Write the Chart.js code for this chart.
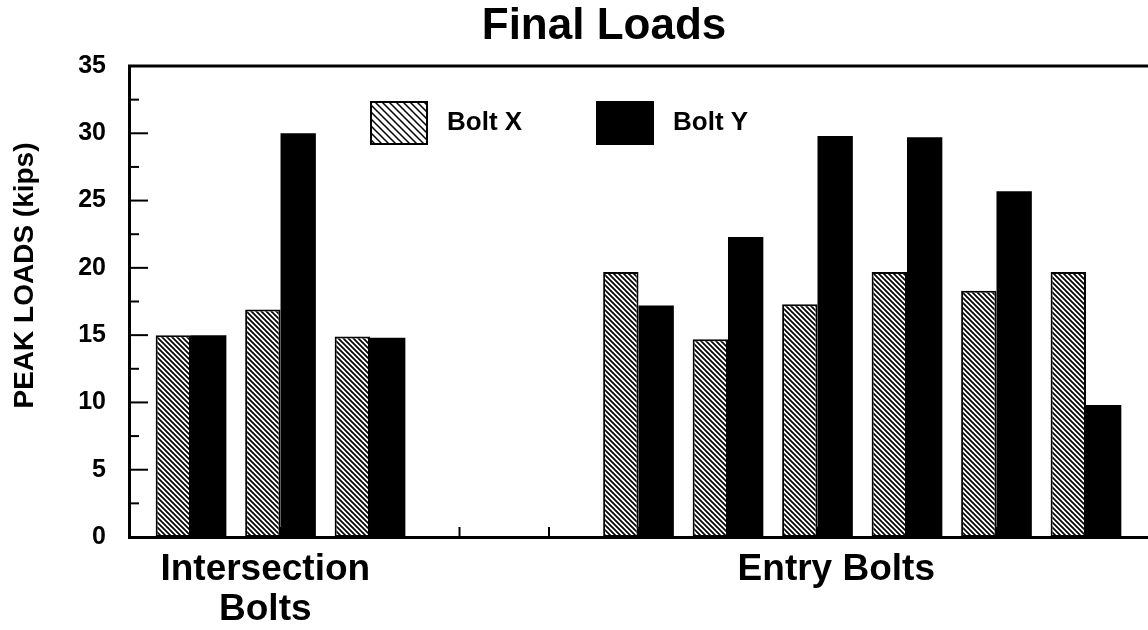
<!DOCTYPE html>
<html>
<head>
<meta charset="utf-8">
<title>Final Loads</title>
<script src="https://cdn.jsdelivr.net/npm/chart.js@4.4.1/dist/chart.umd.min.js"></script>
<style>
  html, body { margin: 0; padding: 0; background: #fff; }
  #wrap { width: 1148px; height: 630px; position: relative; }
</style>
</head>
<body>
<div id="wrap"><canvas id="loads-chart"></canvas></div>
<script>
// slot index along the axis (slots 3 and 4 are the empty gap)
const slots = [0, 1, 2, 5, 6, 7, 8, 9, 10];
const boltX = [15, 16.9, 14.9, 19.7, 14.7, 17.3, 19.7, 18.3, 19.7];
const boltY = [15, 30, 14.8, 17.2, 22.3, 29.8, 29.7, 25.7, 9.8];
const groupLabels = [['Intersection', 'Bolts'], 'Entry Bolts'];
const groupAt = [0.83, 7.21];
const yTicks = [0, 5, 10, 15, 20, 25, 30, 35];

const FONT = "'Liberation Sans', Arial, sans-serif";

function makeHatch(size, width) {
    const c = document.createElement('canvas');
    c.width = size;
    c.height = size;
    const g = c.getContext('2d');
    g.fillStyle = '#fff';
    g.fillRect(0, 0, size, size);
    g.strokeStyle = '#000';
    g.lineWidth = width;
    g.beginPath();
    g.moveTo(-1, -1); g.lineTo(size + 1, size + 1);
    g.moveTo(-1, size - 1); g.lineTo(1, size + 1);
    g.moveTo(size - 1, -1); g.lineTo(size + 1, 1);
    g.stroke();
    return g.createPattern(c, 'repeat');
}

const barHatch = makeHatch(5, 1.7);
const legendHatch = makeHatch(7, 1.5);

// inward tick marks, top frame line, y title and the boxed legend
const decor = {
    id: 'decor',
    beforeDatasetsDraw(chart) {
        const { ctx, chartArea } = chart;
        const x = chart.scales.x;
        const y = chart.scales.y;
        ctx.save();
        ctx.strokeStyle = '#000';
        ctx.lineWidth = 2;
        y.ticks.forEach((t, i) => {
            const py = y.getPixelForTick(i);
            const len = yTicks.includes(t.value) ? 19 : 10;
            ctx.beginPath();
            ctx.moveTo(chartArea.left, py);
            ctx.lineTo(chartArea.left + len, py);
            ctx.stroke();
        });
        x.ticks.forEach((t, i) => {
            const px = x.getPixelForTick(i);
            ctx.beginPath();
            ctx.moveTo(px, chartArea.bottom);
            ctx.lineTo(px, chartArea.bottom - 10);
            ctx.stroke();
        });
        ctx.lineWidth = 3;
        ctx.beginPath();
        ctx.moveTo(chartArea.left - 1, chartArea.top);
        ctx.lineTo(chartArea.right, chartArea.top);
        ctx.stroke();

        // y axis title
        ctx.translate(25, (chartArea.top + chartArea.bottom) / 2 - 26);
        ctx.rotate(-Math.PI / 2);
        ctx.fillStyle = '#000';
        ctx.font = 'bold 28px ' + FONT;
        ctx.textAlign = 'center';
        ctx.textBaseline = 'middle';
        ctx.fillText('PEAK LOADS (kips)', 0, 0);
        ctx.restore();
    },
    afterDatasetsDraw(chart) {
        const { ctx, chartArea } = chart;
        let bx = chartArea.left + 242;
        const by = chartArea.top + 36;
        ctx.save();
        ctx.font = 'bold 26px ' + FONT;
        ctx.textBaseline = 'middle';
        ctx.textAlign = 'left';
        chart.data.datasets.forEach((ds, i) => {
            ctx.fillStyle = i === 0 ? legendHatch : ds.backgroundColor;
            ctx.fillRect(bx, by, 56, 42);
            ctx.strokeStyle = '#000';
            ctx.lineWidth = 2;
            ctx.strokeRect(bx, by, 56, 42);
            ctx.fillStyle = '#000';
            ctx.fillText(ds.label, bx + 76, by + 21);
            bx += 226;
        });
        ctx.restore();
    }
};

// shift the title centre to where the original has it
const placeTitle = {
    id: 'placeTitle',
    afterLayout(chart) {
        chart.titleBlock.left = 60;
    }
};

new Chart(document.getElementById('loads-chart'), {
    type: 'bar',
    data: {
        datasets: [{
            label: 'Bolt X',
            data: slots.map((s, i) => ({ x: s, y: boltX[i] })),
            backgroundColor: barHatch,
            borderColor: '#000',
            borderWidth: 2,
            borderSkipped: false
        }, {
            label: 'Bolt Y',
            data: slots.map((s, i) => ({ x: s, y: boltY[i] })),
            backgroundColor: '#000',
            borderColor: '#000',
            borderWidth: 0
        }]
    },
    options: {
        responsive: true,
        maintainAspectRatio: false,
        animation: false,
        layout: { padding: 0 },
        datasets: {
            bar: { categoryPercentage: 0.79, barPercentage: 1 }
        },
        scales: {
            x: {
                type: 'linear',
                position: 'bottom',
                offset: false,
                min: -0.693,
                max: 10.693,
                afterBuildTicks(scale) {
                    scale.ticks = [0, 1, 2, 3, 4, 5, 6, 7, 8, 9, 10].map(v => ({ value: v }));
                },
                ticks: { display: false },
                grid: { display: false, drawTicks: false, offset: false },
                border: { display: true, color: '#000', width: 3 }
            },
            groups: {
                type: 'linear',
                position: 'bottom',
                offset: false,
                min: -0.693,
                max: 10.693,
                afterBuildTicks(scale) {
                    scale.ticks = groupAt.map(v => ({ value: v }));
                },
                afterFit(scale) { scale.height = 93; },
                ticks: {
                    autoSkip: false,
                    maxRotation: 0,
                    padding: 13,
                    color: '#000',
                    font: { family: FONT, size: 37, weight: 'bold', lineHeight: 1.08 },
                    callback: (v, i) => groupLabels[i]
                },
                grid: { display: false, drawTicks: false, offset: false },
                border: { display: false }
            },
            y: {
                min: 0,
                max: 35,
                afterFit(scale) { scale.width = 129; },
                ticks: {
                    stepSize: 2.5,
                    padding: 23,
                    color: '#000',
                    font: { family: FONT, size: 25, weight: 'bold' },
                    callback: v => yTicks.includes(v) ? v : ''
                },
                grid: { display: false, drawTicks: false },
                border: { display: true, color: '#000', width: 3 }
            }
        },
        plugins: {
            title: {
                display: true,
                text: 'Final Loads',
                color: '#000',
                padding: { top: 0, bottom: 13.2 },
                font: { family: FONT, size: 44, weight: 'bold', lineHeight: 1.2 }
            },
            legend: { display: false },
            tooltip: { enabled: false }
        }
    },
    plugins: [decor, placeTitle]
});
</script>
</body>
</html>
